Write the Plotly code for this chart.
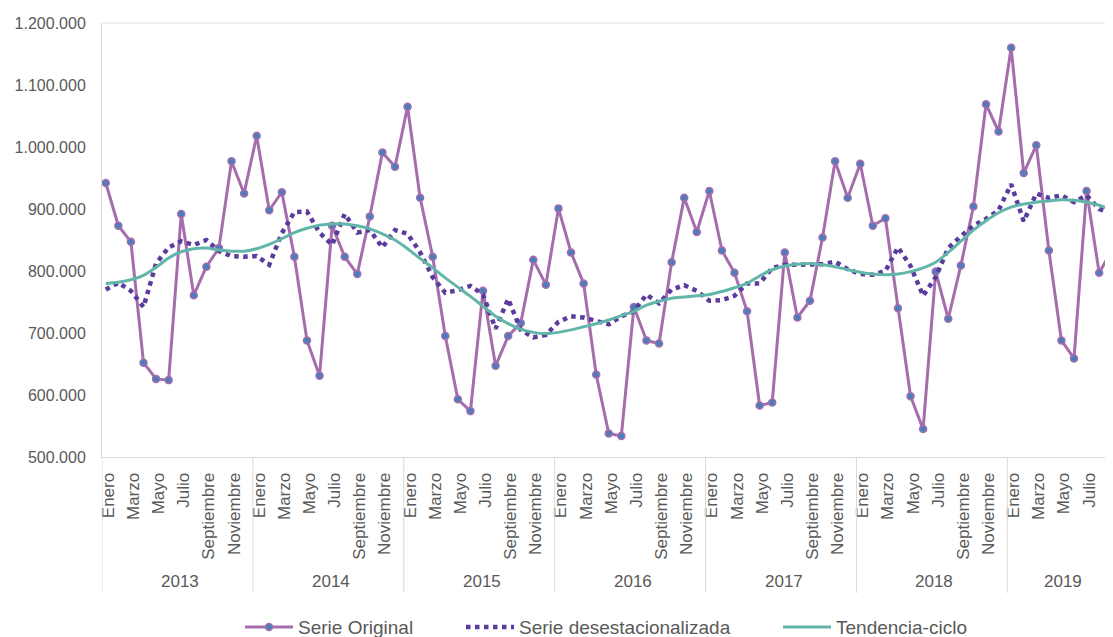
import plotly.graph_objects as go

# datos mensuales enero 2013 - septiembre 2019 (en miles)
anios = [2013, 2014, 2015, 2016, 2017, 2018, 2019]
meses = ["Enero", "Febrero", "Marzo", "Abril", "Mayo", "Junio", "Julio",
         "Agosto", "Septiembre", "Octubre", "Noviembre", "Diciembre"]

serie_original = [
    942, 873, 847, 652, 626, 624, 892, 761, 807, 837, 977, 925,
    1018, 898, 927, 823, 688, 631, 873, 823, 795, 888, 991, 968,
    1065, 918, 823, 695, 593, 574, 768, 647, 695, 716, 818, 778,
    901, 830, 780, 633, 538, 534, 742, 688, 683, 814, 918, 863,
    929, 833, 797, 735, 583, 588, 830, 725, 752, 854, 977, 918,
    973, 873, 885, 740, 598, 545, 799, 723, 809, 904, 1069, 1025,
    1160, 958, 1003, 833, 688, 659, 929, 797, 833,
]

serie_desest = [
    770, 781, 768, 742, 812, 838, 848, 842, 850, 832, 824, 823,
    824, 810, 861, 895, 896, 862, 842, 892, 862, 866, 838, 866,
    860, 830, 790, 765, 769, 776, 762, 707, 755, 705, 693, 697,
    718, 727, 725, 719, 714, 727, 735, 762, 748, 770, 777, 768,
    752, 753, 760, 780, 780, 805, 810, 810, 810, 811, 815, 803,
    795, 794, 800, 838, 808, 760, 790, 837, 856, 873, 884, 898,
    940, 880, 925, 918, 922, 911, 922, 900, 893,
]

tendencia = [
    780, 782, 786, 793, 806, 821, 831, 836, 837, 834, 832, 832,
    836, 843, 852, 862, 869, 874, 876, 876, 873, 868, 860, 850,
    836, 820, 805, 789, 774, 759, 743, 727, 715, 706, 701, 699,
    701, 705, 710, 715, 721, 728, 735, 745, 751, 756, 758, 760,
    762, 767, 773, 780, 792, 802, 808, 811, 812, 810, 807, 802,
    798, 795, 794, 795, 799, 805, 814, 830, 848, 866, 881, 894,
    903, 908, 911, 913, 915, 914, 911, 906, 898,
]

n = len(serie_original)
idx = list(range(n))
orig = [v * 1000 for v in serie_original]
desest = [v * 1000 for v in serie_desest]
tend = [v * 1000 for v in tendencia]

FONT = "Liberation Sans, Arial, sans-serif"
GRIS = "#595959"
XMIN, XMAX = -0.3, 80.1

fig = go.Figure()
fig.add_trace(go.Scatter(
    x=idx, y=orig, name="Serie Original", mode="lines+markers", legend="legend",
    line=dict(color="#a66dad", width=3),
    marker=dict(size=7, color="#4a7ebb", line=dict(color="#a66dad", width=1.5)),
))
fig.add_trace(go.Scatter(
    x=idx, y=desest, name="Serie desestacionalizada", mode="lines", legend="legend2",
    line=dict(color="#5b3c9c", width=4.5, dash="4.5px,4.5px"),
))
fig.add_trace(go.Scatter(
    x=idx, y=tend, name="Tendencia-ciclo", mode="lines", legend="legend3",
    line=dict(color="#62b6a9", width=3, shape="spline", smoothing=0.8),
))

# etiquetas de meses (cada dos meses)
tickvals = [i + 0.2 for i in idx if i % 2 == 0 and i + 0.2 < XMAX]
ticktext = [meses[i % 12] for i in idx if i % 2 == 0 and i + 0.2 < XMAX]

# la última etiqueta (Septiembre 2019) queda cortada en el borde derecho
fig.add_annotation(x=(n - 1 + 0.2 - XMIN) / (XMAX - XMIN) + 0.003, y=-0.023,
                   xref="paper", yref="paper", text=meses[(n - 1) % 12],
                   textangle=-90, showarrow=False, yanchor="top", xanchor="center",
                   font=dict(family=FONT, size=17, color=GRIS))

# separadores de año y etiquetas
for k, anio in enumerate(anios):
    x0 = XMIN + 12 * k
    fig.add_shape(type="line", xref="x", yref="paper", x0=x0, x1=x0,
                  y0=0, y1=-0.313, line=dict(color="#d9d9d9", width=1))
    x1 = min(x0 + 12, XMAX)
    fig.add_annotation(x=(x0 + x1) / 2 + 0.2, y=-0.287, xref="x", yref="paper",
                       text=str(anio), showarrow=False, yanchor="middle",
                       font=dict(family=FONT, size=17, color=GRIS))

fig.add_shape(type="line", xref="paper", yref="paper", x0=0, x1=1, y0=1, y1=1,
              line=dict(color="#e4e2d6", width=1))

leg = dict(orientation="h", xanchor="left", y=-0.392, yanchor="middle",
           font=dict(family=FONT, size=19, color=GRIS), itemwidth=48,
           bgcolor="rgba(0,0,0,0)")

# la página tiene 8px de margen en el body: se compensa en el tamaño
fig.update_layout(
    width=1105, height=629,
    margin=dict(l=94, r=0, t=15, b=180, autoexpand=False),
    plot_bgcolor="white", paper_bgcolor="white",
    separators=",.",
    font=dict(family=FONT, color=GRIS),
    showlegend=True,
    legend=dict(leg, x=(240 - 102) / 1011),
    legend2=dict(leg, x=(461 - 102) / 1011),
    legend3=dict(leg, x=(778 - 102) / 1011),
    xaxis=dict(range=[XMIN, XMAX], tickvals=tickvals, ticktext=ticktext,
               tickangle=-90, showgrid=False, zeroline=False, automargin=False,
               showline=True, linecolor="#d9d9d9", linewidth=1,
               ticks="outside", ticklen=8, tickcolor="rgba(0,0,0,0)",
               tickfont=dict(family=FONT, size=17, color=GRIS)),
    yaxis=dict(range=[500000, 1200000], dtick=100000, tickformat=",.0f",
               showgrid=False, zeroline=False, automargin=False,
               showline=True, linecolor="#d9d9d9", linewidth=1,
               ticks="outside", ticklen=12, tickcolor="rgba(0,0,0,0)",
               tickfont=dict(family=FONT, size=16, color=GRIS)),
)

fig.write_html("out.html")
